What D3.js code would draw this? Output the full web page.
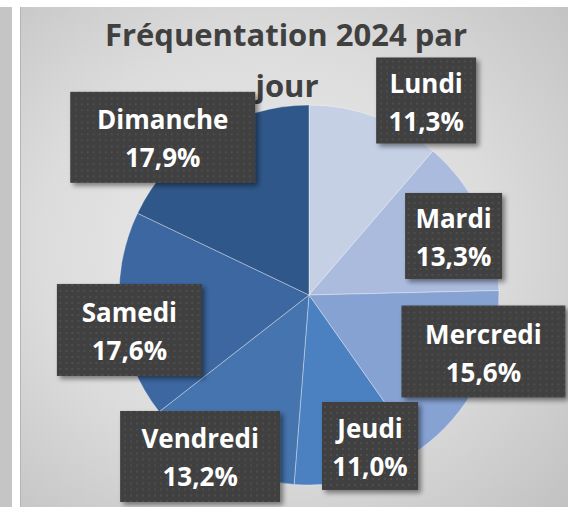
<html>
<head>
  <meta charset="utf-8">
  <title>Fréquentation 2024 par jour</title>
  <style>
    body {
      margin: 0;
      padding: 0;
      background: #fff;
      font-family: "Open Sans", Lato, sans-serif;
    }
  </style>
</head>
<body>
  <div id="chart"></div>

  <script src="https://d3js.org/d3.v7.min.js"></script>
  <script>
    // data
    var days = ["Lundi", "Mardi", "Mercredi", "Jeudi", "Vendredi", "Samedi", "Dimanche"];
    var shares = [11.3, 13.3, 15.6, 11.0, 13.2, 17.6, 17.9];
    var sliceColors = ["#c5d0e5", "#aabbde", "#86a2d3", "#4b81c1", "#4574ae", "#3c67a0", "#2f5789"];

    // where the data labels sit: radius factor and angle nudge (deg) from slice middle
    var labelPlace = [[1.195, 10.7], [0.822, 3.1], [0.965, -8.8], [0.857, -6.7],
                      [1.025, 5.7], [0.963, -4.8], [1.132, -10.6]];
    // label box sizes (w, h)
    var labelBox = [[100, 86], [97, 86], [164, 92], [96, 88], [160, 91], [145, 92], [185, 91]];

    var width = 568,
      height = 507;
    var cx = 309, cy = 295, radius = 190;

    var fr = d3.formatLocale({decimal: ",", thousands: " ", grouping: [3], currency: ["", "€"]});
    var pct = fr.format(".1f");

    var svg = d3.select("#chart")
      .append("svg")
      .attr("width", width)
      .attr("height", height);

    var defs = svg.append("defs");

    var bg = defs.append("radialGradient")
      .attr("id", "bg")
      .attr("cx", "45%").attr("cy", "48%").attr("r", "75%");
    bg.append("stop").attr("offset", "0%").attr("stop-color", "#ececec");
    bg.append("stop").attr("offset", "55%").attr("stop-color", "#dcdcdc");
    bg.append("stop").attr("offset", "100%").attr("stop-color", "#c2c2c2");

    var dots = defs.append("pattern")
      .attr("id", "dots")
      .attr("width", 6).attr("height", 6)
      .attr("patternUnits", "userSpaceOnUse");
    dots.append("rect").attr("width", 6).attr("height", 6).attr("fill", "#3f3f3f");
    dots.append("rect").attr("x", 2).attr("y", 2).attr("width", 2).attr("height", 2).attr("fill", "#4e4e4e");

    var shadow = defs.append("filter").attr("id", "shadow")
      .attr("x", "-20%").attr("y", "-20%").attr("width", "140%").attr("height", "140%");
    shadow.append("feDropShadow")
      .attr("dx", 3).attr("dy", 3).attr("stdDeviation", 2.5)
      .attr("flood-color", "#000").attr("flood-opacity", 0.45);

    // frame: grey strip on the left and the chart area
    svg.append("rect").attr("x", 0).attr("y", 7).attr("width", 12).attr("height", height - 7)
      .attr("fill", "#c5c5c5");
    svg.append("rect").attr("x", 20).attr("y", 7).attr("width", width - 20).attr("height", height - 7)
      .attr("fill", "url(#bg)");
    svg.append("line").attr("x1", 20.5).attr("x2", 20.5).attr("y1", 7).attr("y2", height)
      .attr("stroke", "#b4b4b4");

    // title
    var title = svg.append("text")
      .attr("text-anchor", "middle")
      .attr("fill", "#404040")
      .style("font-weight", "bold")
      .style("font-size", "31px");
    title.append("tspan").attr("x", 286).attr("y", 46).text("Fréquentation 2024 par");
    title.append("tspan").attr("x", 287).attr("y", 97).text("jour");

    // pie
    var pie = d3.pie().sort(null).value(function(d) { return d; });
    var arcs = pie(shares);
    var arc = d3.arc().innerRadius(0).outerRadius(radius);

    var g = svg.append("g").attr("transform", "translate(" + cx + "," + cy + ")");

    g.selectAll("path")
      .data(arcs)
      .enter()
      .append("path")
      .attr("d", arc)
      .attr("fill", function(d, i) { return sliceColors[i]; })
      .attr("stroke", "rgba(255,255,255,0.35)")
      .attr("stroke-width", 1);

    // data labels
    var labels = g.selectAll("g.lab")
      .data(arcs)
      .enter()
      .append("g")
      .attr("class", "lab")
      .attr("transform", function(d, i) {
        var a = (d.startAngle + d.endAngle) / 2 + labelPlace[i][1] * Math.PI / 180;
        var r = radius * labelPlace[i][0];
        return "translate(" + (Math.sin(a) * r) + "," + (-Math.cos(a) * r) + ")";
      });

    labels.append("rect")
      .attr("x", function(d, i) { return -labelBox[i][0] / 2; })
      .attr("y", function(d, i) { return -labelBox[i][1] / 2; })
      .attr("width", function(d, i) { return labelBox[i][0]; })
      .attr("height", function(d, i) { return labelBox[i][1]; })
      .attr("fill", "url(#dots)")
      .attr("filter", "url(#shadow)");

    var txt = labels.append("text")
      .attr("text-anchor", "middle")
      .attr("fill", "#fff")
      .style("font-weight", "bold")
      .style("font-size", "26px");
    txt.append("tspan").attr("x", 0).attr("y", -8).text(function(d, i) { return days[i]; });
    txt.append("tspan").attr("x", 0).attr("y", 30).text(function(d) { return pct(d.value) + "%"; });
  </script>
</body>
</html>
